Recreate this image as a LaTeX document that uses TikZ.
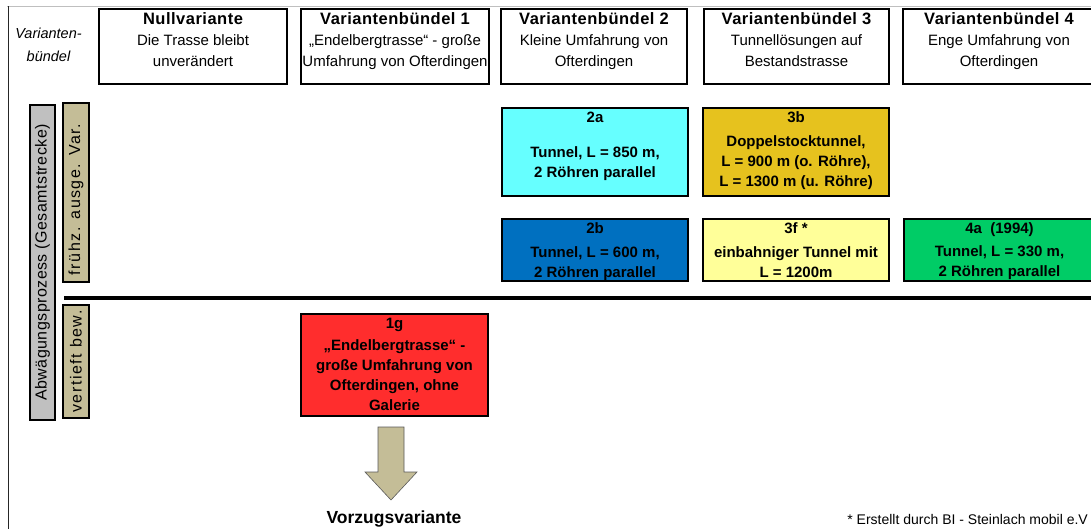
\documentclass[tikz,border=0pt]{standalone}
\usepackage{fontspec}
\setmainfont{Liberation Sans}
\newfontfamily\sperrfont[LetterSpace=3]{Liberation Sans}
\newfontfamily\balkenfont[LetterSpace=9.5]{Liberation Sans}
\usepackage{tikz}

\definecolor{tuerkis}{HTML}{66FFFF}
\definecolor{senf}{HTML}{E6C21E}
\definecolor{blau}{HTML}{0070C0}
\definecolor{hellgelb}{HTML}{FFFF99}
\definecolor{gruen}{HTML}{00CC66}
\definecolor{rot}{HTML}{FF2D2D}
\definecolor{khaki}{HTML}{C4BD97}
\definecolor{balkengrau}{HTML}{C0C0C0}

\newcommand{\titel}{\sperrfont\bfseries\fontsize{16.5}{21}\selectfont}

\tikzset{
    kopf/.style={rectangle, draw, line width=2.4pt, inner xsep=0pt, inner ysep=4pt, minimum height=75pt, font=\fontsize{15}{21}\selectfont},
    var/.style={rectangle, draw, line width=2.4pt, inner xsep=0pt, inner ysep=4pt, font=\fontsize{15}{20}\selectfont\bfseries},
    balken/.style={rectangle, draw, line width=1.6pt, rotate=90, inner sep=0pt, font=\fontsize{16}{18}\selectfont},
}

\begin{document}
\begin{tikzpicture}[x=1pt, y=-1pt]
            \useasboundingbox (0,0) rectangle (1091,528);

            % Frame
            \draw[gray!50, line width=0.8pt] (7,6) -- (1096,6);
            \draw[black!85, line width=1pt] (8,6) -- (8,530);

            % Header
            \node[font=\fontsize{14.5}{23}\selectfont\itshape, align=center] (buendel) at (48.5,44.5) {Varianten-\\bündel};
            \node[kopf, minimum width=188pt] (null) at (193,46.5) {\parbox[c][67pt][t]{186pt}{\centering{\titel Nullvariante}\\Die Trasse bleibt\\unverändert}};
            \node[kopf, minimum width=188pt] (vb1) at (395,46.5) {\parbox[c][67pt][t]{186pt}{\centering{\titel Variantenbündel 1}\\„Endelbergtrasse“ - große\\Umfahrung von Ofterdingen}};
            \node[kopf, minimum width=186pt] (vb2) at (594,46.5) {\parbox[c][67pt][t]{184pt}{\centering{\titel Variantenbündel 2}\\Kleine Umfahrung von\\Ofterdingen}};
            \node[kopf, minimum width=185pt] (vb3) at (796.5,46.5) {\parbox[c][67pt][t]{183pt}{\centering{\titel Variantenbündel 3}\\Tunnellösungen auf\\Bestandstrasse}};
            \node[kopf, minimum width=192pt] (vb4) at (999,46.5) {\parbox[c][67pt][t]{190pt}{\centering{\titel Variantenbündel 4}\\Enge Umfahrung von\\Ofterdingen}};

            % Bars
            \node[balken, fill=balkengrau, minimum width=315pt, minimum height=25pt] (abw) at (42.5,262.5) {\sperrfont Abwägungsprozess (Gesamtstrecke)};
            \node[balken, fill=khaki, minimum width=179pt, minimum height=26pt, text width=165pt, align=left, inner xsep=7pt] (fruehz) at (76,192.5) {\balkenfont frühz. ausge. Var.};
            \node[balken, fill=khaki, minimum width=113pt, minimum height=26pt] (vertieft) at (76,361.5) {\balkenfont vertieft bew.};

            % Variants
            \node[var, fill=tuerkis, minimum width=186pt, minimum height=88pt] (v2a) at (595,152) {\parbox[c][80pt][t]{184pt}{\centering 2a\\[15pt]Tunnel, L = 850 m,\\2 Röhren parallel}};
            \node[var, fill=senf, minimum width=186pt, minimum height=88pt] (v3b) at (796,152) {\parbox[c][80pt][t]{184pt}{\centering 3b\\[4pt]Doppelstocktunnel,\\L = 900 m (o. Röhre),\\L = 1300 m (u. Röhre)}};
            \node[var, fill=blau, minimum width=186pt, minimum height=62pt] (v2b) at (595,250) {\parbox[c][54pt][t]{184pt}{\centering 2b\\[4pt]Tunnel, L = 600 m,\\2 Röhren parallel}};
            \node[var, fill=hellgelb, minimum width=186pt, minimum height=62pt] (v3f) at (796,250) {\parbox[c][54pt][t]{184pt}{\centering 3f *\\[4pt]einbahniger Tunnel mit\\L = 1200m}};
            \node[var, fill=gruen, minimum width=191pt, minimum height=62pt] (v4a) at (999.5,250) {\parbox[c][54pt][t]{189pt}{\centering 4a~ (1994)\\[3pt]Tunnel, L = 330 m,\\2 Röhren parallel}};
            \node[var, fill=rot, minimum width=187pt, minimum height=102pt] (g1) at (394.5,365) {\parbox[c][94pt][t]{185pt}{\centering 1g\\[2pt]„Endelbergtrasse“ -\\große Umfahrung von\\Ofterdingen, ohne\\Galerie}};

            % Lines
            \draw[line width=3.2pt] (64,298) -- (1096,298);
            \draw[fill=khaki, draw=gray!70!black, line width=0.6pt] (378,427) -- (404,427) -- (404,472) -- (417,472) -- (391,500) -- (365,472) -- (378,472) -- cycle;

            % Texts
            \node[font=\fontsize{17.5}{20}\selectfont\bfseries] (vorzug) at (394,519) {Vorzugsvariante};
            \node[font=\fontsize{14}{16}\selectfont, anchor=east, inner sep=0pt] (quelle) at (1088,519) {* Erstellt durch BI - Steinlach mobil e.V};
        \end{tikzpicture}
\end{document}
